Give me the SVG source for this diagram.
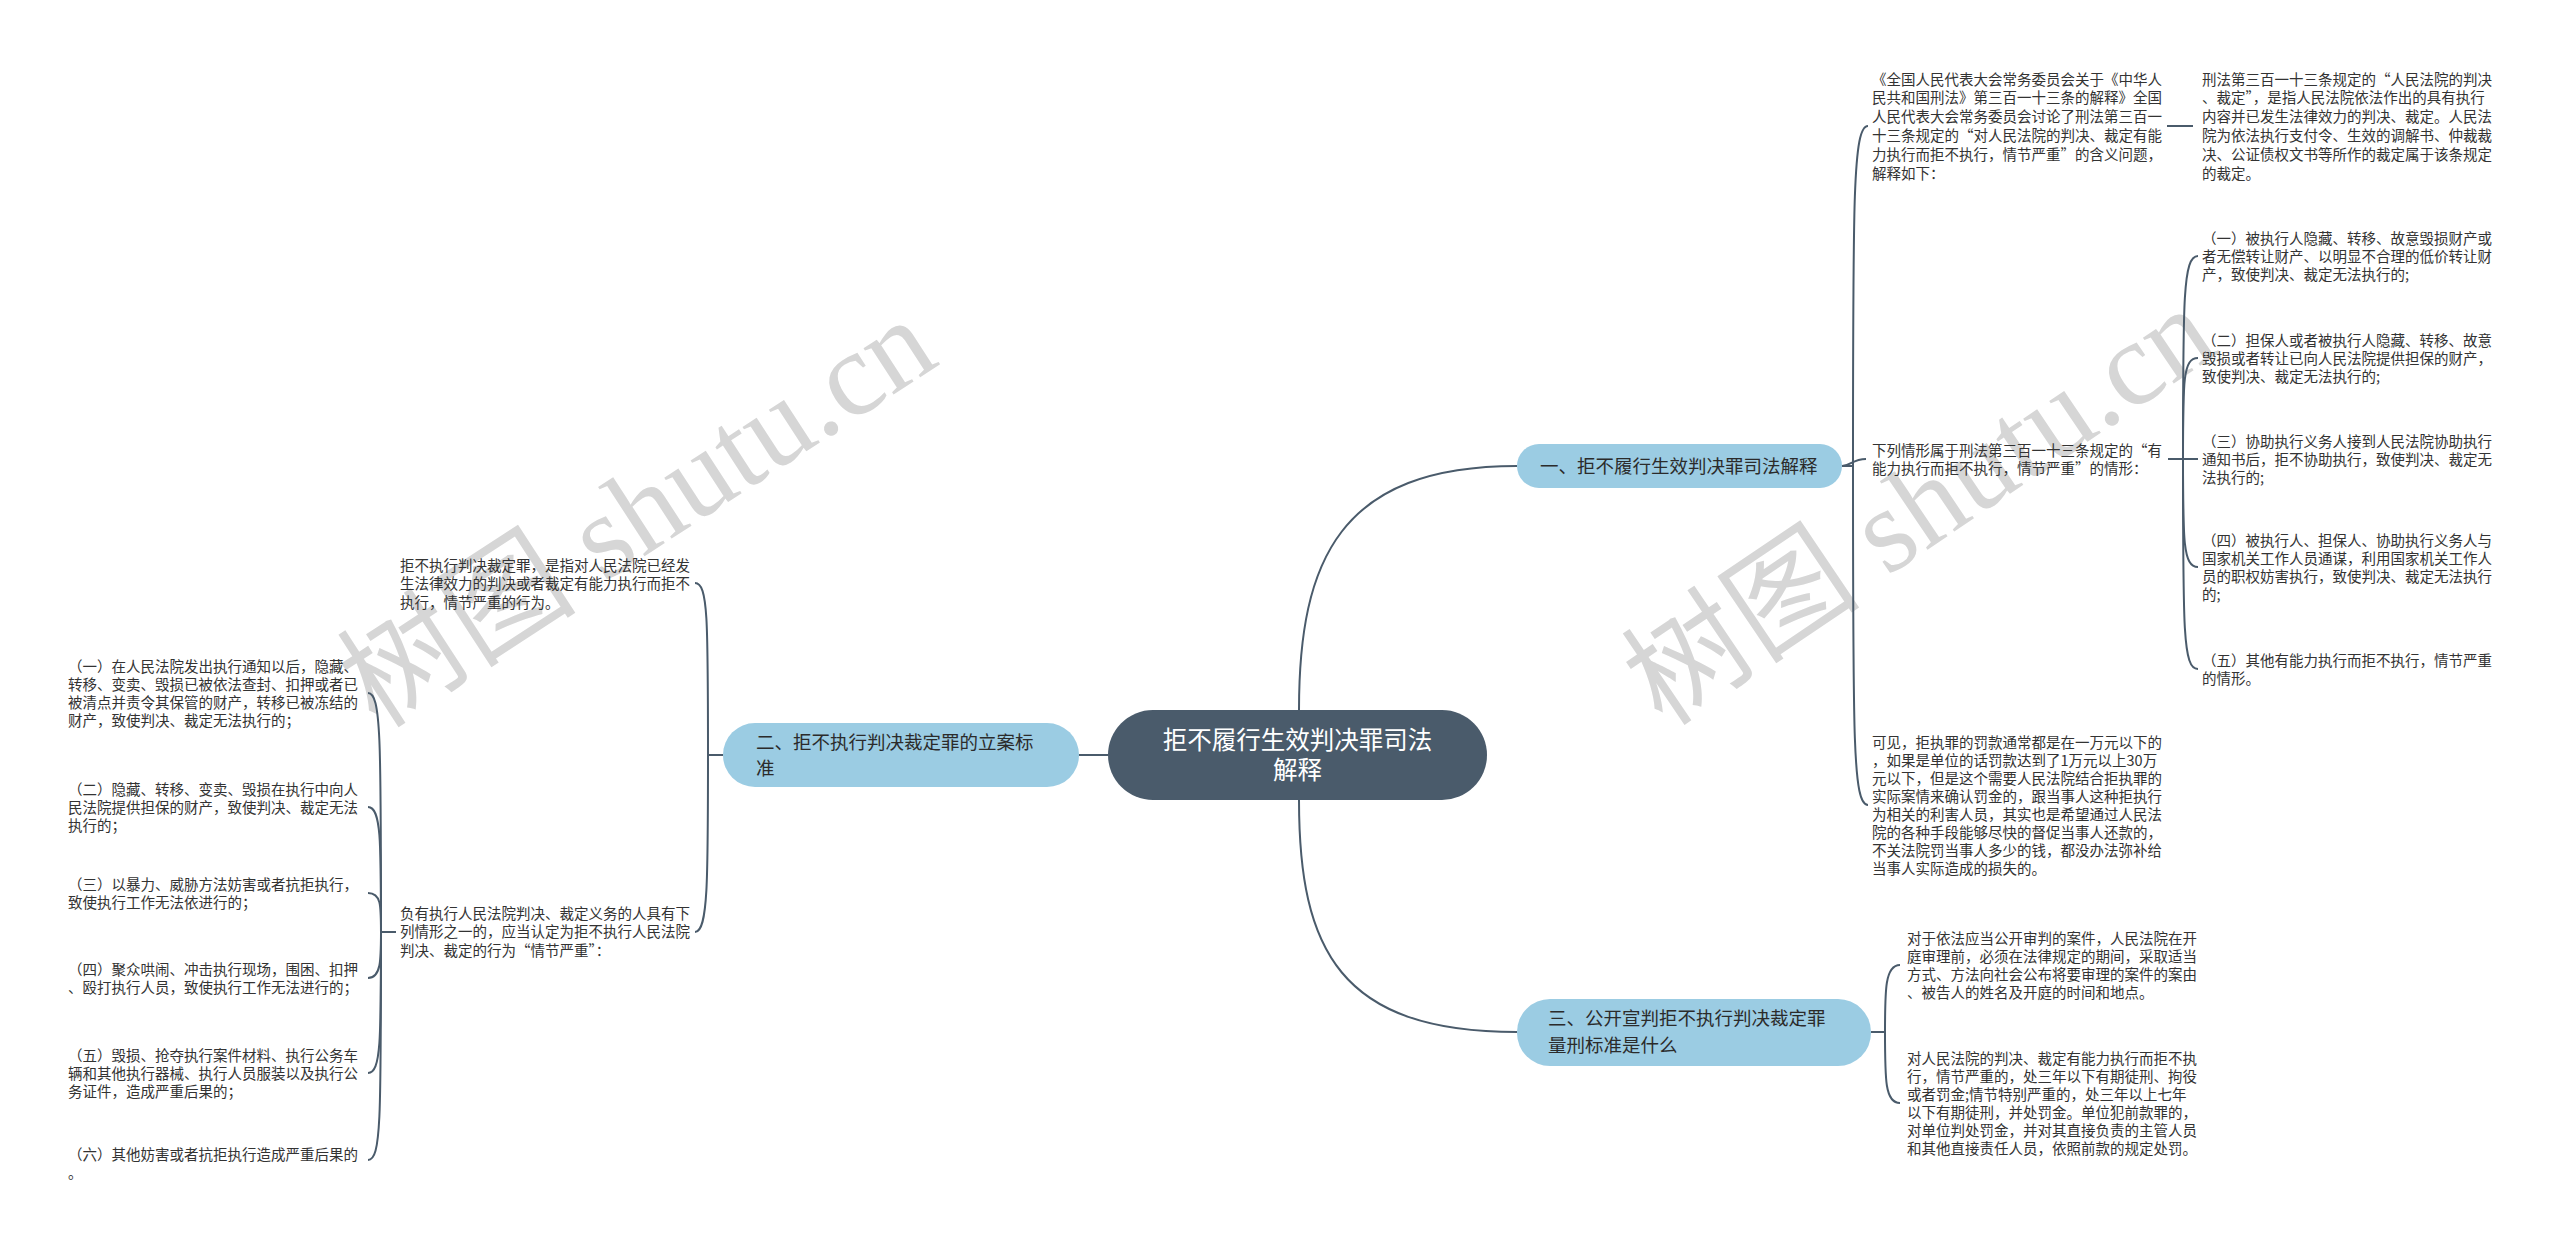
<svg xmlns="http://www.w3.org/2000/svg" width="2560" height="1251" viewBox="0 0 2560 1251">
<style>
.t{font-family:"Noto Sans CJK SC","Noto Sans",sans-serif;font-size:14.5px;fill:#333}
.n{font-family:"Noto Sans CJK SC","Noto Sans",sans-serif;font-size:18.5px;fill:#2b2b2b}
.c{font-family:"Noto Sans CJK SC","Noto Sans",sans-serif;font-size:24.5px;fill:#fff}
.ln{fill:none;stroke:#4a5b6b;stroke-width:2}
.sub{fill:#9bcce3}
.wm{font-family:"Liberation Serif","Noto Sans CJK SC",serif;font-size:120px;fill:#d6d6d6}
</style>
<rect width="2560" height="1251" fill="#fff"/>
<g id="watermarks">
<text class="wm" transform="translate(377,730) rotate(-33)">树图 shutu.cn</text>
<text class="wm" transform="translate(1663,728) rotate(-34)">树图 shutu.cn</text>
</g>
<g id="connectors">
<path class="ln" d="M1108,755 H1079"/>
<path class="ln" d="M1299,710 C1299,560 1340,466 1517,466"/>
<path class="ln" d="M1299,800 C1299,950 1340,1032 1517,1032"/>
<path class="ln" d="M1842,466 H1853 C1853,200 1853,126 1868,126"/>
<path class="ln" d="M1842,466 C1850,466 1853,459 1866,459"/>
<path class="ln" d="M1853,466 C1853,740 1853,805 1868,805"/>
<path class="ln" d="M2167,126 H2193"/>
<path class="ln" d="M2168,459 H2183 C2183,300 2183,256 2198,256"/>
<path class="ln" d="M2183,459 C2183,380 2183,358 2198,358"/>
<path class="ln" d="M2168,459 H2198"/>
<path class="ln" d="M2183,459 C2183,540 2183,567 2198,567"/>
<path class="ln" d="M2183,459 C2183,630 2183,669 2198,669"/>
<path class="ln" d="M1871,1032 H1885 C1885,990 1885,965 1900,965"/>
<path class="ln" d="M1885,1032 C1885,1080 1885,1103 1900,1103"/>
<path class="ln" d="M723,755 H708 C708,620 708,583 695,583"/>
<path class="ln" d="M708,755 C708,880 708,932 695,932"/>
<path class="ln" d="M396,932 H381 C381,740 381,693 368,693"/>
<path class="ln" d="M381,932 C381,840 381,807 368,807"/>
<path class="ln" d="M381,932 C381,905 381,893 368,893"/>
<path class="ln" d="M381,932 C381,960 381,978 368,978"/>
<path class="ln" d="M381,932 C381,1040 381,1073 368,1073"/>
<path class="ln" d="M381,932 C381,1120 381,1160 368,1160"/>
</g>
<g id="root">
<rect x="1108" y="710" width="379" height="90" rx="45" fill="#4a5b6b"/>
<text class="c" x="1297.5" y="749" text-anchor="middle">拒不履行生效判决罪司法</text>
<text class="c" x="1297.5" y="779" text-anchor="middle">解释</text>
</g>
<g id="n1">
<rect class="sub" x="1517" y="444" width="325" height="44" rx="22"/>
<text class="n" x="1540" y="473">一、拒不履行生效判决罪司法解释</text>
</g>
<g id="n2">
<rect class="sub" x="723" y="723" width="356" height="64" rx="32"/>
<text class="n" x="756" y="749">二、拒不执行判决裁定罪的立案标</text>
<text class="n" x="756" y="775">准</text>
</g>
<g id="n3">
<rect class="sub" x="1517" y="999" width="354" height="67" rx="33"/>
<text class="n" x="1548" y="1025">三、公开宣判拒不执行判决裁定罪</text>
<text class="n" x="1548" y="1052">量刑标准是什么</text>
</g>
<g id="a1">
<text class="t" x="1872" y="84.5">《全国人民代表大会常务委员会关于《中华人</text>
<text class="t" x="1872" y="103.3">民共和国刑法》第三百一十三条的解释》全国</text>
<text class="t" x="1872" y="122.1">人民代表大会常务委员会讨论了刑法第三百一</text>
<text class="t" x="1872" y="140.9">十三条规定的“对人民法院的判决、裁定有能</text>
<text class="t" x="1872" y="159.7">力执行而拒不执行，情节严重”的含义问题，</text>
<text class="t" x="1872" y="178.5">解释如下：</text>
</g>
<g id="a2">
<text class="t" x="2202" y="84.5">刑法第三百一十三条规定的“人民法院的判决</text>
<text class="t" x="2202" y="103.3">、裁定”，是指人民法院依法作出的具有执行</text>
<text class="t" x="2202" y="122.1">内容并已发生法律效力的判决、裁定。人民法</text>
<text class="t" x="2202" y="140.9">院为依法执行支付令、生效的调解书、仲裁裁</text>
<text class="t" x="2202" y="159.7">决、公证债权文书等所作的裁定属于该条规定</text>
<text class="t" x="2202" y="178.5">的裁定。</text>
</g>
<g id="p1">
<text class="t" x="1872" y="455.5">下列情形属于刑法第三百一十三条规定的“有</text>
<text class="t" x="1872" y="473.5">能力执行而拒不执行，情节严重”的情形：</text>
</g>
<g id="r1">
<text class="t" x="2202" y="243.5">（一）被执行人隐藏、转移、故意毁损财产或</text>
<text class="t" x="2202" y="261.5">者无偿转让财产、以明显不合理的低价转让财</text>
<text class="t" x="2202" y="279.5">产，致使判决、裁定无法执行的;</text>
</g>
<g id="r2">
<text class="t" x="2202" y="345.5">（二）担保人或者被执行人隐藏、转移、故意</text>
<text class="t" x="2202" y="363.5">毁损或者转让已向人民法院提供担保的财产，</text>
<text class="t" x="2202" y="381.5">致使判决、裁定无法执行的;</text>
</g>
<g id="r3">
<text class="t" x="2202" y="446.5">（三）协助执行义务人接到人民法院协助执行</text>
<text class="t" x="2202" y="464.5">通知书后，拒不协助执行，致使判决、裁定无</text>
<text class="t" x="2202" y="482.5">法执行的;</text>
</g>
<g id="r4">
<text class="t" x="2202" y="545.5">（四）被执行人、担保人、协助执行义务人与</text>
<text class="t" x="2202" y="563.5">国家机关工作人员通谋，利用国家机关工作人</text>
<text class="t" x="2202" y="581.5">员的职权妨害执行，致使判决、裁定无法执行</text>
<text class="t" x="2202" y="599.5">的;</text>
</g>
<g id="r5">
<text class="t" x="2202" y="665.5">（五）其他有能力执行而拒不执行，情节严重</text>
<text class="t" x="2202" y="683.5">的情形。</text>
</g>
<g id="c1">
<text class="t" x="1872" y="747.5">可见，拒执罪的罚款通常都是在一万元以下的</text>
<text class="t" x="1872" y="765.5">，如果是单位的话罚款达到了1万元以上30万</text>
<text class="t" x="1872" y="783.5">元以下，但是这个需要人民法院结合拒执罪的</text>
<text class="t" x="1872" y="801.5">实际案情来确认罚金的，跟当事人这种拒执行</text>
<text class="t" x="1872" y="819.5">为相关的利害人员，其实也是希望通过人民法</text>
<text class="t" x="1872" y="837.5">院的各种手段能够尽快的督促当事人还款的，</text>
<text class="t" x="1872" y="855.5">不关法院罚当事人多少的钱，都没办法弥补给</text>
<text class="t" x="1872" y="873.5">当事人实际造成的损失的。</text>
</g>
<g id="d1">
<text class="t" x="1907" y="943.5">对于依法应当公开审判的案件，人民法院在开</text>
<text class="t" x="1907" y="961.5">庭审理前，必须在法律规定的期间，采取适当</text>
<text class="t" x="1907" y="979.5">方式、方法向社会公布将要审理的案件的案由</text>
<text class="t" x="1907" y="997.5">、被告人的姓名及开庭的时间和地点。</text>
</g>
<g id="d2">
<text class="t" x="1907" y="1063.5">对人民法院的判决、裁定有能力执行而拒不执</text>
<text class="t" x="1907" y="1081.5">行，情节严重的，处三年以下有期徒刑、拘役</text>
<text class="t" x="1907" y="1099.5">或者罚金;情节特别严重的，处三年以上七年</text>
<text class="t" x="1907" y="1117.5">以下有期徒刑，并处罚金。单位犯前款罪的，</text>
<text class="t" x="1907" y="1135.5">对单位判处罚金，并对其直接负责的主管人员</text>
<text class="t" x="1907" y="1153.5">和其他直接责任人员，依照前款的规定处罚。</text>
</g>
<g id="l1">
<text class="t" x="400" y="570.5">拒不执行判决裁定罪，是指对人民法院已经发</text>
<text class="t" x="400" y="589">生法律效力的判决或者裁定有能力执行而拒不</text>
<text class="t" x="400" y="607.5">执行，情节严重的行为。</text>
</g>
<g id="l2">
<text class="t" x="400" y="918.5">负有执行人民法院判决、裁定义务的人具有下</text>
<text class="t" x="400" y="937">列情形之一的，应当认定为拒不执行人民法院</text>
<text class="t" x="400" y="955.5">判决、裁定的行为“情节严重”：</text>
</g>
<g id="li1">
<text class="t" x="68" y="671.5">（一）在人民法院发出执行通知以后，隐藏、</text>
<text class="t" x="68" y="689.5">转移、变卖、毁损已被依法查封、扣押或者已</text>
<text class="t" x="68" y="707.5">被清点并责令其保管的财产，转移已被冻结的</text>
<text class="t" x="68" y="725.5">财产，致使判决、裁定无法执行的；</text>
</g>
<g id="li2">
<text class="t" x="68" y="794.5">（二）隐藏、转移、变卖、毁损在执行中向人</text>
<text class="t" x="68" y="812.5">民法院提供担保的财产，致使判决、裁定无法</text>
<text class="t" x="68" y="830.5">执行的；</text>
</g>
<g id="li3">
<text class="t" x="68" y="889.5">（三）以暴力、威胁方法妨害或者抗拒执行，</text>
<text class="t" x="68" y="907.5">致使执行工作无法依进行的；</text>
</g>
<g id="li4">
<text class="t" x="68" y="974.5">（四）聚众哄闹、冲击执行现场，围困、扣押</text>
<text class="t" x="68" y="992.5">、殴打执行人员，致使执行工作无法进行的；</text>
</g>
<g id="li5">
<text class="t" x="68" y="1060.5">（五）毁损、抢夺执行案件材料、执行公务车</text>
<text class="t" x="68" y="1078.5">辆和其他执行器械、执行人员服装以及执行公</text>
<text class="t" x="68" y="1096.5">务证件，造成严重后果的；</text>
</g>
<g id="li6">
<text class="t" x="68" y="1159.5">（六）其他妨害或者抗拒执行造成严重后果的</text>
<text class="t" x="68" y="1177.5">。</text>
</g>
</svg>
